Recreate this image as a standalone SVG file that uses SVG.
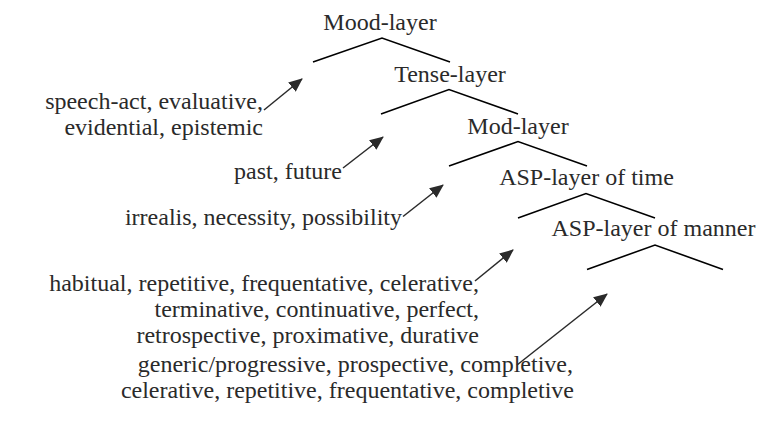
<svg xmlns="http://www.w3.org/2000/svg" width="764" height="424" viewBox="0 0 764 424">
<defs>
<marker id="ah" markerUnits="userSpaceOnUse" markerWidth="14" markerHeight="12" refX="13" refY="6" orient="auto">
<path d="M0,0 L14,6 L0,12 Z" fill="#2a2a2a"/>
</marker>
</defs>
<rect width="764" height="424" fill="#fff"/>
<g id="mood">
<text font-family="Liberation Serif" font-size="24" fill="#2a2a2a" x="380" y="29.5" text-anchor="middle">Mood-layer</text>
<polyline fill="none" stroke="#000" stroke-width="1.6" points="313,62 382,38 450,62"/>
</g>
<g id="tense">
<text font-family="Liberation Serif" font-size="24" fill="#2a2a2a" x="450" y="82" text-anchor="middle">Tense-layer</text>
<polyline fill="none" stroke="#000" stroke-width="1.6" points="381,114 449,89.5 518,114"/>
</g>
<g id="mod">
<text font-family="Liberation Serif" font-size="24" fill="#2a2a2a" x="518" y="133.5" text-anchor="middle">Mod-layer</text>
<polyline fill="none" stroke="#000" stroke-width="1.6" points="449,166 518,141.5 587,166"/>
</g>
<g id="asp-time">
<text font-family="Liberation Serif" font-size="24" fill="#2a2a2a" x="586.5" y="185" text-anchor="middle">ASP-layer of time</text>
<polyline fill="none" stroke="#000" stroke-width="1.6" points="518,218 586,193.5 655,218"/>
</g>
<g id="asp-manner">
<text font-family="Liberation Serif" font-size="24" fill="#2a2a2a" x="653.5" y="236" text-anchor="middle">ASP-layer of manner</text>
<polyline fill="none" stroke="#000" stroke-width="1.6" points="587,269.5 655,245 723,269.5"/>
</g>
<g id="lbl-mood">
<text font-family="Liberation Serif" font-size="24" fill="#2a2a2a" x="263" y="109" text-anchor="end">speech-act, evaluative,</text>
<text font-family="Liberation Serif" font-size="24" fill="#2a2a2a" x="263" y="135" text-anchor="end">evidential, epistemic</text>
</g>
<g id="lbl-tense">
<text font-family="Liberation Serif" font-size="24" fill="#2a2a2a" x="342" y="178.5" text-anchor="end">past, future</text>
</g>
<g id="lbl-mod">
<text font-family="Liberation Serif" font-size="24" fill="#2a2a2a" x="402" y="225" text-anchor="end">irrealis, necessity, possibility</text>
</g>
<g id="lbl-asp-time">
<text font-family="Liberation Serif" font-size="24" fill="#2a2a2a" x="479" y="291" text-anchor="end">habitual, repetitive, frequentative, celerative,</text>
<text font-family="Liberation Serif" font-size="24" fill="#2a2a2a" x="479" y="317" text-anchor="end">terminative, continuative, perfect,</text>
<text font-family="Liberation Serif" font-size="24" fill="#2a2a2a" x="479" y="343" text-anchor="end">retrospective, proximative, durative</text>
</g>
<g id="lbl-asp-manner">
<text font-family="Liberation Serif" font-size="24" fill="#2a2a2a" x="573" y="372" text-anchor="end">generic/progressive, prospective, completive,</text>
<text font-family="Liberation Serif" font-size="24" fill="#2a2a2a" x="574" y="398" text-anchor="end">celerative, repetitive, frequentative, completive</text>
</g>
<g id="connectors" stroke="#2a2a2a" stroke-width="1.5" fill="none">
<line x1="264" y1="110" x2="302" y2="79" marker-end="url(#ah)"/>
<line x1="343" y1="168" x2="383" y2="137" marker-end="url(#ah)"/>
<line x1="403" y1="216.5" x2="443" y2="185" marker-end="url(#ah)"/>
<line x1="475" y1="281" x2="513" y2="250" marker-end="url(#ah)"/>
<line x1="517" y1="365" x2="607" y2="294" marker-end="url(#ah)"/>
</g>
</svg>
